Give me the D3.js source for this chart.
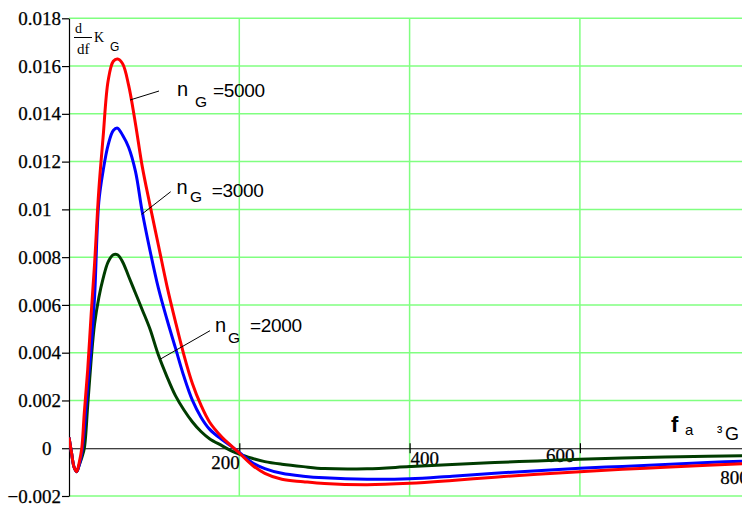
<!DOCTYPE html>
<html>
<head>
<meta charset="utf-8">
<script src="https://cdn.jsdelivr.net/npm/d3@7"></script>
<style>
  html, body { margin: 0; padding: 0; background: #ffffff; }
  svg { display: block; }
</style>
</head>
<body>
<svg id="chart" width="742" height="505"></svg>
<script>
// Frequency samples (Hz) shared by all three curves
const freq = [0, 3, 6, 9, 12, 15, 18, 22, 26, 30, 35, 40, 46, 52, 57, 63, 70, 78, 86, 95,
  105, 115, 125, 135, 145, 155, 165, 180, 190, 200, 215, 230, 250, 275, 300, 350, 400,
  450, 500, 550, 600, 650, 700, 750, 800];

// dK_G/df for n_G = 5000
const dKG5000 = [0.00045, -0.0002, -0.0008, -0.00098, -0.0006, 0.0, 0.0015, 0.0033, 0.0056, 0.0077,
  0.0108, 0.0130, 0.0154, 0.0162, 0.0163, 0.0161, 0.0152, 0.0136, 0.0118, 0.0102,
  0.0085, 0.0068, 0.0053, 0.0039, 0.0027, 0.0018, 0.0011, 0.00045, 0.00012, -0.0002,
  -0.0007, -0.00105, -0.0013, -0.0014, -0.00148, -0.00153, -0.00147,
  -0.00135, -0.00121, -0.00109, -0.00098, -0.00088, -0.0008, -0.00071, -0.00063];

// dK_G/df for n_G = 3000
const dKG3000 = [0.00045, -0.0002, -0.0008, -0.00098, -0.0007, -0.0002, 0.0008, 0.0026, 0.0042, 0.0063,
  0.0103, 0.0116, 0.0127, 0.0133, 0.0134, 0.0131, 0.0126, 0.0116, 0.0099, 0.0083,
  0.0067, 0.0054, 0.0042, 0.0030, 0.0020, 0.0013, 0.0008, 0.00035, 0.0001, -0.00018,
  -0.0006, -0.00085, -0.00105, -0.00117, -0.00124, -0.0013, -0.00128,
  -0.00117, -0.00105, -0.00094, -0.00084, -0.00076, -0.00068, -0.0006, -0.00053];

// dK_G/df for n_G = 2000
const dKG2000 = [0.00045, -0.0002, -0.0008, -0.00098, -0.0007, -0.0004, 0.0, 0.0018, 0.0037, 0.0052,
  0.0063, 0.0071, 0.0078, 0.0081, 0.0081, 0.0078, 0.0072, 0.0065, 0.0058, 0.0050,
  0.0039, 0.0030, 0.0022, 0.0016, 0.0011, 0.0007, 0.0004, 0.0001, -0.0001, -0.00025,
  -0.00042, -0.00056, -0.00067, -0.00077, -0.00085, -0.00086, -0.00077,
  -0.00068, -0.0006, -0.00053, -0.00046, -0.00041, -0.00037, -0.00034, -0.00031];

const nG = [5000, 3000, 2000];
const seriesColors = ["#ff0000", "#0000ff", "#003c00"];

const yTicks = [-0.002, 0, 0.002, 0.004, 0.006, 0.008, 0.01, 0.012, 0.014, 0.016, 0.018];
const xTicks = [200, 400, 600, 800];

const svg = d3.select("#chart");
const W = 742, H = 505;
svg.append("rect").attr("width", W).attr("height", H).attr("fill", "#ffffff");

const x = d3.scaleLinear().domain([0, 800]).range([69, 750.2]);
const y = d3.scaleLinear().domain([-0.002, 0.018]).range([496, 18.3]);

const gridColor = "#80ff80";
const serif = "'Liberation Serif', 'Times New Roman', 'DejaVu Serif', serif";
const sans = "'Liberation Sans', Arial, sans-serif";

// Horizontal grid lines (the zero line is drawn as the black axis)
svg.append("g").selectAll("line")
  .data(yTicks.filter(v => v !== 0))
  .join("line")
  .attr("x1", x(0)).attr("x2", W)
  .attr("y1", d => y(d)).attr("y2", d => y(d))
  .attr("stroke", gridColor).attr("stroke-width", 1.5);

// Vertical grid lines
svg.append("g").selectAll("line")
  .data(xTicks)
  .join("line")
  .attr("x1", d => x(d)).attr("x2", d => x(d))
  .attr("y1", y(0.018)).attr("y2", y(-0.002))
  .attr("stroke", gridColor).attr("stroke-width", 1.5);

// Left axis
const fmtY = d => (d < 0 ? "\u2212" : "") + String(+Math.abs(d).toFixed(3));
const yAxis = svg.append("g")
  .attr("transform", `translate(${x(0)},0)`)
  .call(d3.axisLeft(y).tickValues(yTicks).tickSize(7).tickSizeOuter(0).tickPadding(1).tickFormat(fmtY));
yAxis.attr("font-family", null).attr("font-size", null);
yAxis.select(".domain").attr("stroke", "#000").attr("stroke-width", 1.2);
yAxis.selectAll(".tick line").attr("stroke", "#000").attr("stroke-width", 1.2);
yAxis.selectAll(".tick text")
  .style("font-family", serif).style("font-size", "19px").attr("fill", "#000")
  .attr("stroke", "#000").attr("stroke-width", 0.25)
  .attr("dx", d => (fmtY(d).replace("\u2212", "").length < 5 ? "-0.5em" : 0));

// Horizontal axis through zero
const xAxis = svg.append("g")
  .attr("transform", `translate(0,${y(0)})`)
  .call(d3.axisBottom(x).tickValues(xTicks).tickSize(5).tickSizeOuter(0).tickFormat(d3.format("d")));
xAxis.attr("font-family", null).attr("font-size", null);
xAxis.select(".domain").attr("stroke", "#000").attr("stroke-width", 1.2);
xAxis.selectAll(".tick line").attr("y1", -5).attr("stroke", "#000").attr("stroke-width", 1.2);

// Tick label placement around the crossing axis
const xLabelPlace = {
  200: { anchor: "end", dx: 0, dy: 21 },
  400: { anchor: "start", dx: 0.5, dy: 16.5 },
  600: { anchor: "end", dx: -6, dy: 13.5 },
  800: { anchor: "end", dx: -2, dy: 36 }
};
xAxis.selectAll(".tick text")
  .style("font-family", serif).style("font-size", "19px").attr("fill", "#000")
  .attr("stroke", "#000").attr("stroke-width", 0.25)
  .attr("text-anchor", d => xLabelPlace[d].anchor)
  .attr("x", d => xLabelPlace[d].dx)
  .attr("y", d => xLabelPlace[d].dy)
  .attr("dy", 0);

// Curves
svg.append("clipPath").attr("id", "plotClip")
  .append("rect").attr("x", x(0)).attr("y", 0).attr("width", W - x(0)).attr("height", y(-0.002) + 2);

const line = d3.line()
  .x((d, i) => x(freq[i]))
  .y(d => y(d))
  .curve(d3.curveCatmullRom.alpha(0.5));

// Drawn from the smallest n_G upward so the red curve sits on top
const drawOrder = [
  { values: dKG2000, color: seriesColors[2] },
  { values: dKG3000, color: seriesColors[1] },
  { values: dKG5000, color: seriesColors[0] }
];
svg.append("g").attr("clip-path", "url(#plotClip)")
  .selectAll("path")
  .data(drawOrder)
  .join("path")
  .attr("d", d => line(d.values))
  .attr("fill", "none")
  .attr("stroke", d => d.color)
  .attr("stroke-width", 3)
  .attr("stroke-linejoin", "round");

// Series annotations with leader lines
const annotations = [
  { n: nG[0], leader: [[130, 100], [159, 91]], nx: 177, ny: 96, gx: 195, gy: 106.5, vx: 213, vy: 96.5 },
  { n: nG[1], leader: [[141.7, 214.3], [170.7, 191.7]], nx: 176.5, ny: 193.5, gx: 190, gy: 201.7, vx: 211.7, vy: 196.5 },
  { n: nG[2], leader: [[160, 359.3], [210, 330.7]], nx: 215, ny: 331.5, gx: 228, gy: 342.5, vx: 250, vy: 331.5 }
];
const ann = svg.append("g");
annotations.forEach(a => {
  ann.append("line")
    .attr("x1", a.leader[0][0]).attr("y1", a.leader[0][1])
    .attr("x2", a.leader[1][0]).attr("y2", a.leader[1][1])
    .attr("stroke", "#000").attr("stroke-width", 1);
  ann.append("text").attr("x", a.nx).attr("y", a.ny)
    .attr("font-family", sans).attr("font-size", 20).text("n");
  ann.append("text").attr("x", a.gx).attr("y", a.gy)
    .attr("font-family", sans).attr("font-size", 15.5).text("G");
  ann.append("text").attr("x", a.vx).attr("y", a.vy)
    .attr("font-family", sans).attr("font-size", 19).attr("letter-spacing", -0.3).text("=" + a.n);
});

// Y axis caption: d/df K_G
const cap = svg.append("g");
cap.append("text").attr("x", 75).attr("y", 33).attr("font-family", serif).attr("font-size", 14).text("d");
cap.append("line").attr("x1", 74).attr("x2", 92).attr("y1", 37.5).attr("y2", 37.5)
  .attr("stroke", "#000").attr("stroke-width", 1);
cap.append("text").attr("x", 77).attr("y", 54).attr("font-family", serif).attr("font-size", 15).text("df");
cap.append("text").attr("x", 94).attr("y", 42).attr("font-family", serif).attr("font-size", 14).text("K");
cap.append("text").attr("x", 110).attr("y", 51).attr("font-family", sans).attr("font-size", 12).text("G");

// X axis caption: f_a with unit
const xcap = svg.append("g");
xcap.append("text").attr("x", 671).attr("y", 431.5).attr("font-family", sans)
  .attr("font-weight", "bold").attr("font-size", 22).text("f");
xcap.append("text").attr("x", 685).attr("y", 435).attr("font-family", sans).attr("font-size", 15).text("a");
xcap.append("text").attr("x", 717).attr("y", 437).attr("font-family", sans).attr("font-size", 16).text("\u00b3");
xcap.append("text").attr("x", 725).attr("y", 440).attr("font-family", sans).attr("font-size", 18).text("G");
</script>
</body>
</html>
